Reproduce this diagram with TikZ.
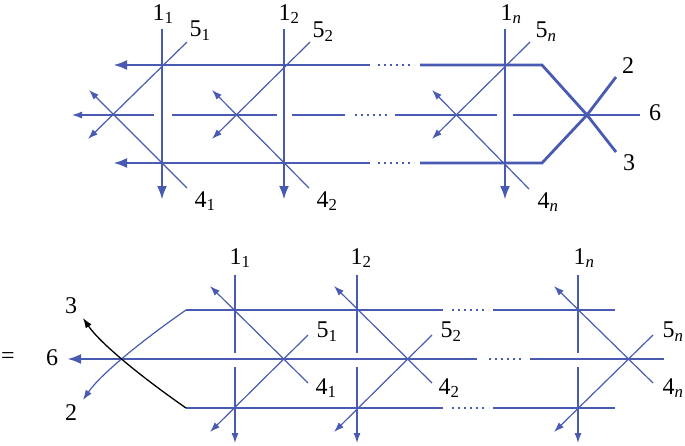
\documentclass[tikz,border=0pt]{standalone}
\usepackage{fontspec}
\setmainfont{Liberation Serif}
\usetikzlibrary{arrows.meta}

\definecolor{lineblue}{RGB}{72,90,178}

\begin{document}
\begin{tikzpicture}[
    x=1pt, y=-1pt,
    thickline/.style={draw=lineblue, line width=2.8pt},
    thinline/.style={draw=lineblue, line width=1.2pt},
    bigtip/.style={-{Latex[length=14pt,width=10pt]}},
    smalltip/.style={-{Latex[length=10pt,width=7pt]}},
    dots/.style={dash pattern=on 2pt off 4pt},
    lab/.style={inner sep=0pt, font=\fontsize{24}{28}\selectfont}
]
\useasboundingbox (0,0) rectangle (685,445);

% ---------- upper diagram ----------
% Rails
\draw[thickline] (370,65) -- (122,65);
\draw[thickline, bigtip] (130,65) -- (113,65);
\draw[thickline, dots] (378,65) -- (414,65);
\draw[thickline] (420,65) -- (542,65) -- (587,115) -- (616,152);
\draw[thickline] (370,163) -- (122,163);
\draw[thickline, bigtip] (130,163) -- (113,163);
\draw[thickline, dots] (378,163) -- (414,163);
\draw[thickline] (420,163) -- (542,163) -- (587,115) -- (616,77);

% Middle line
\draw[thinline, smalltip] (154,115) -- (72,115);
\draw[thinline] (172,115) -- (277,115);
\draw[thinline] (292,115) -- (345,115);
\draw[thinline, dots] (355,115) -- (390,115);
\draw[thinline] (395,115) -- (497,115);
\draw[thinline] (513,115) -- (640,115);

% Verticals
\draw[thickline, bigtip] (162,29) -- (162,200);
\draw[thickline, bigtip] (284,29) -- (284,200);
\draw[thickline, bigtip] (505,29) -- (505,200);

% Diagonals
\draw[thinline, smalltip] (187,42) -- (88,139);
\draw[thinline, smalltip] (187,188) -- (89,90);
\draw[thinline, smalltip] (310,42) -- (212,139);
\draw[thinline, smalltip] (309,188) -- (212,90);
\draw[thinline, smalltip] (530,42) -- (432,139);
\draw[thinline, smalltip] (529,189) -- (432,90);

% Labels
\node[lab] (u11) at (163,14) {1\textsubscript{1}};
\node[lab] (u51) at (200,31) {5\textsubscript{1}};
\node[lab] (u41) at (205,201) {4\textsubscript{1}};
\node[lab] (u12) at (289,14) {1\textsubscript{2}};
\node[lab] (u52) at (323,32) {5\textsubscript{2}};
\node[lab] (u42) at (327,201) {4\textsubscript{2}};
\node[lab] (u1n) at (511,14) {1\textsubscript{\textit{n}}};
\node[lab] (u5n) at (546,32) {5\textsubscript{\textit{n}}};
\node[lab] (u4n) at (548,202) {4\textsubscript{\textit{n}}};
\node[lab] (u2) at (628,66) {2};
\node[lab] (u6) at (655,113) {6};
\node[lab] (u3) at (629,163) {3};

% ---------- lower diagram ----------
% Middle rail
\draw[thickline] (477,359) -- (76,359);
\draw[thickline, bigtip] (84,359) -- (67,359);
\draw[thickline, dots] (489,359) -- (524,359);
\draw[thickline] (530,359) -- (664,359);

% Outer lines
\draw[thinline] (443,310) -- (186,310);
\draw[thinline, smalltip] (186,310) .. controls (140,342) and (100,375) .. (83,400);
\draw[thinline, dots] (452,310) -- (488,310);
\draw[thinline] (493,310) -- (615,310);
\draw[thinline] (443,408) -- (186,408);
\draw[black, line width=1.3pt, smalltip] (186,408) .. controls (140,376) and (100,343) .. (83,318);
\draw[thinline, dots] (452,408) -- (488,408);
\draw[thinline] (493,408) -- (615,408);

% Verticals
\draw[thinline] (235,275) -- (235,353);
\draw[thinline, smalltip] (235,367) -- (235,443);
\draw[thinline] (357,275) -- (357,353);
\draw[thinline, smalltip] (357,367) -- (357,443);
\draw[thinline] (578,275) -- (578,353);
\draw[thinline, smalltip] (578,367) -- (578,443);

% Diagonals
\draw[thinline, smalltip] (308,383) -- (210,286);
\draw[thinline, smalltip] (308,335) -- (210,432);
\draw[thinline, smalltip] (432,383) -- (334,286);
\draw[thinline, smalltip] (432,335) -- (334,432);
\draw[thinline, smalltip] (653,383) -- (554,286);
\draw[thinline, smalltip] (653,335) -- (554,432);

% Labels
\node[lab] (eq) at (8,358) {=};
\node[lab] (l6) at (52,358) {6};
\node[lab] (l3) at (71,306) {3};
\node[lab] (l2) at (71,413) {2};
\node[lab] (l11) at (240,258) {1\textsubscript{1}};
\node[lab] (l12) at (361,258) {1\textsubscript{2}};
\node[lab] (l1n) at (584,258) {1\textsubscript{\textit{n}}};
\node[lab] (l51) at (327,332) {5\textsubscript{1}};
\node[lab] (l41) at (326,388) {4\textsubscript{1}};
\node[lab] (l52) at (451,332) {5\textsubscript{2}};
\node[lab] (l42) at (449,388) {4\textsubscript{2}};
\node[lab] (l5n) at (673,332) {5\textsubscript{\textit{n}}};
\node[lab] (l4n) at (673,388) {4\textsubscript{\textit{n}}};

\end{tikzpicture}
\end{document}
